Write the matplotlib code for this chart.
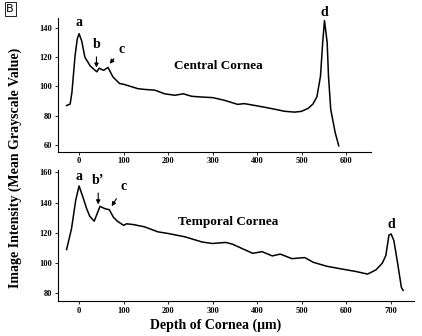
import numpy as np
import matplotlib.pyplot as plt

# -------------------------
# Perfil de intensidade - cornea central e temporal
# -------------------------

central_x = [-28, -20, -16, -9, -4, 0, 6, 13, 25, 36, 40, 45, 55, 65, 76, 91, 100,
             113, 132, 147, 170, 192, 215, 234, 253, 275, 300, 326, 356, 371, 401,
             431, 461, 484, 499, 514, 525, 534, 542, 547, 551, 557, 560, 565, 575, 583]
central_y = [87, 88, 96, 121, 132.5, 136, 131, 120, 114, 111, 110, 112.5, 111, 113,
             106.5, 102, 101.5, 100.3, 98.5, 98, 97.5, 95, 94, 95, 93.3, 92.8, 92.4,
             90.6, 87.8, 88.3, 86.7, 85, 83.1, 82.5, 83, 85, 88, 93, 107, 130, 145,
             130, 107, 84.4, 68.6, 59.5]

temporal_x = [-28, -17, -7.5, 0, 9.7, 17, 24, 34, 47, 58, 68, 77, 86, 100, 107, 124,
              130, 147, 177, 200, 238, 276, 299, 330, 345, 390, 411, 434, 452, 478,
              507, 526, 556, 593, 622, 648, 667, 681, 689, 696, 701, 707, 715, 724, 728]
temporal_y = [109, 122.7, 141.5, 151, 142.7, 136, 131, 127.7, 137.5, 136, 135.3, 130.4,
              127.7, 125, 126, 125.4, 125, 124, 120.7, 119.6, 117.4, 114, 113, 113.7,
              112.5, 106.5, 107.6, 104.8, 106, 103, 103.7, 100.6, 98, 96, 94.5, 92.8,
              95.6, 100, 105, 118.5, 119.3, 115, 101, 84, 82]

top_xticks = [0, 100, 200, 300, 400, 500, 600]
top_yticks = [60, 80, 100, 120, 140]
bot_xticks = [0, 100, 200, 300, 400, 500, 600, 700]
bot_yticks = [80, 100, 120, 140, 160]

serif = 'Liberation Serif'
fig = plt.figure(figsize=(4.22, 3.36), dpi=100)

ax1 = fig.add_axes([0.1367, 0.5485, 0.742, 0.397])
ax2 = fig.add_axes([0.1367, 0.104, 0.844, 0.39])

ax1.plot(central_x, central_y, color='black', lw=1.1)
ax2.plot(temporal_x, temporal_y, color='black', lw=1.1)

ax1.set_xlim(-48, 655)
ax1.set_ylim(55.5, 146.5)
ax2.set_xlim(-48, 752)
ax2.set_ylim(75, 161.5)

for ax, xt, yt in [(ax1, top_xticks, top_yticks), (ax2, bot_xticks, bot_yticks)]:
    ax.spines['top'].set_visible(False)
    ax.spines['right'].set_visible(False)
    ax.set_xticks(xt)
    ax.set_yticks(yt)
    ax.tick_params(direction='out', length=2, width=0.6, pad=2)
    for lab in ax.get_xticklabels() + ax.get_yticklabels():
        lab.set_fontfamily(serif)
        lab.set_fontweight('bold')
        lab.set_fontsize(6)

txt = dict(family=serif, fontweight='bold')
arr = dict(arrowstyle='-|>', lw=0.8, color='black', mutation_scale=6)

# painel superior
ax1.text(0, 139, 'a', ha='center', va='bottom', fontsize=10, **txt)
ax1.annotate('b', xy=(39, 111), xytext=(39, 124), ha='center', va='bottom',
             fontsize=10, arrowprops=arr, **txt)
ax1.annotate('c', xy=(65, 114), xytext=(95, 121), ha='center', va='bottom',
             fontsize=10, arrowprops=arr, **txt)
ax1.text(551, 146, 'd', ha='center', va='bottom', fontsize=10, **txt)
ax1.text(312, 114, 'Central Cornea', ha='center', va='center', fontsize=9.5, **txt)

# painel inferior
ax2.text(0, 153, 'a', ha='center', va='bottom', fontsize=10, **txt)
ax2.annotate('b\u2019', xy=(43, 137), xytext=(43, 150), ha='center', va='bottom',
             fontsize=10, arrowprops=arr, **txt)
ax2.annotate('c', xy=(70, 136), xytext=(100, 146), ha='center', va='bottom',
             fontsize=10, arrowprops=arr, **txt)
ax2.text(701, 121, 'd', ha='center', va='bottom', fontsize=10, **txt)
ax2.text(336, 127.5, 'Temporal Cornea', ha='center', va='center', fontsize=9.5, **txt)

fig.text(0.036, 0.50, 'Image Intensity (Mean Grayscale Value)', rotation=90,
         ha='center', va='center', fontsize=10, **txt)
fig.text(0.51, 0.033, 'Depth of Cornea (\u03bcm)', ha='center', va='center',
         fontsize=10, **txt)
fig.text(0.024, 0.973, 'B', ha='center', va='center', fontsize=8,
         family='DejaVu Sans',
         bbox=dict(boxstyle='square,pad=0.15', fc='white', ec='black', lw=0.6))

fig.savefig('out.png', dpi=100)
